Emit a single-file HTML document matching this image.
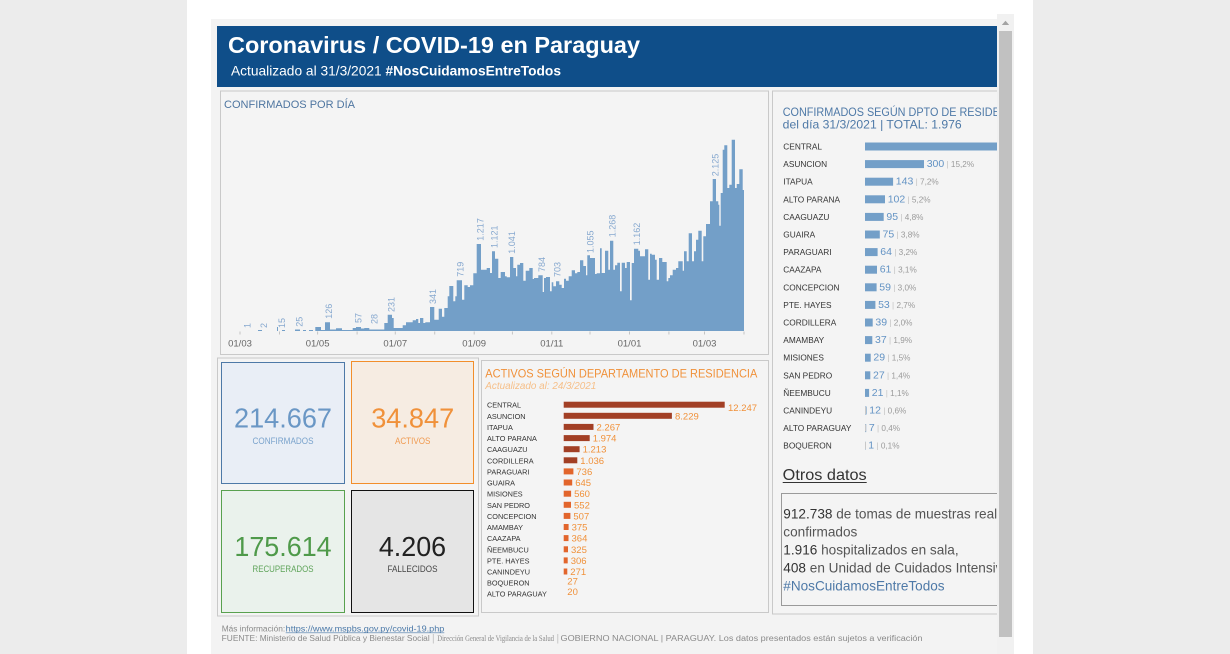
<!DOCTYPE html>
<html>
<head>
<meta charset="utf-8">
<style>
  html,body{margin:0;padding:0;}
  body{width:1230px;height:654px;overflow:hidden;background:#ececec;font-family:"Liberation Sans",sans-serif;}
  svg{display:block;}
</style>
</head>
<body>
<svg width="1230" height="654" viewBox="0 0 1230 654" xmlns="http://www.w3.org/2000/svg" font-family="Liberation Sans, sans-serif">
  <defs>
    <clipPath id="rp"><rect x="772" y="88" width="225" height="530"/></clipPath>
  </defs>
  <!-- page -->
  <rect x="0" y="0" width="1230" height="654" fill="#ececec"/>
  <rect x="187" y="0" width="846" height="654" fill="#ffffff"/>
  <rect x="211" y="19" width="786" height="635" fill="#f3f3f3"/>

  <!-- header -->
  <rect x="217" y="26" width="780" height="61" fill="#0f4e89"/>
  <text x="228" y="53" font-size="23" font-weight="bold" fill="#ffffff" textLength="412" lengthAdjust="spacingAndGlyphs">Coronavirus / COVID-19 en Paraguay</text>
  <text x="231" y="75.5" font-size="13.7" fill="#ffffff" textLength="330" lengthAdjust="spacingAndGlyphs">Actualizado al 31/3/2021 <tspan font-weight="bold">#NosCuidamosEntreTodos</tspan></text>

  <!-- CONFIRMADOS POR DIA panel -->
  <rect x="220.5" y="91" width="548" height="263.5" fill="#f4f4f4" stroke="#c9c9c9" stroke-width="1"/>
  <text x="224" y="108" font-size="11" fill="#4e75a0" textLength="131" lengthAdjust="spacingAndGlyphs">CONFIRMADOS POR DÍA</text>

  <!-- small early bars -->
  <g fill="#739fc8">
    <rect x="258" y="330" width="4" height="1"/>
    <rect x="277" y="327" width="1" height="4"/>
    <rect x="282" y="330" width="3" height="1"/>
    <rect x="295" y="329.5" width="5" height="1.5"/>
    <rect x="303" y="330" width="3" height="1"/>
    <rect x="309" y="330" width="4" height="1"/>
  </g>
  <path fill="#739fc8" d="M315.3 331 V327 H321 V330 H325 V322.3 H330 V329.5 H336 V328.3 H342 V330 H352.7 V328 H356 V327 H361 V328.5 H364.3 V328 H369.3 V329.5 H384.3 V323 H387.7 V314.7 H392 V318 H393.7 V328 H402.7 V325.3 H406 V322.3 H412.7 V320.3 H416 V319 H418.3 V323 H420 V318 H423.3 V323 H425.3 V322.3 H430 V307 H434.3 V319.7 H438.7 V308.7 H442 V316.7 H444.3 V308 H447.7 V296.3 H449.3 V286 H453.3 V301.3 H455.3 V296.3 H456.7 V280.3 H462 V299.7 H464.3 V285.3 H467.7 V287 H470 V285.3 H473.3 V273.3 H476.7 V244 H481 V269.7 H486.7 V268 H490 V273 H492 V251.3 H495 V258.7 H498.3 V278 H500.7 V272 H505 V276.3 H506.7 V277.3 H510 V257 H513.3 V268 H516 V276.3 H517.3 V264.7 H520 V263 H523.3 V280.7 H525.7 V270.7 H529.3 V268 H532.7 V279 H534 V278 H538.3 V275.3 H542.7 V292 H544 V278 H546 V277 H550 V291.3 H551.7 V282.3 H553.3 V286.3 H556 V281.3 H559.3 V284.7 H561.7 V288 H564 V278.7 H566 V280.7 H568.7 V276.3 H571.7 V270.3 H575 V273.3 H577.3 V272 H580 V260.3 H583.3 V266 H586 V275.3 H587.3 V255.3 H590 V258 H595 V274 H596.7 V273.3 H600 V248.3 H601.7 V273 H605 V250.7 H608.3 V269.7 H610 V240.7 H613.3 V269.7 H615 V265.3 H617.3 V262.7 H620 V291.3 H621.7 V262.7 H625 V268 H626.7 V262 H630 V300.3 H631.7 V263 H634 V248.7 H638.3 V250.7 H640 V256.3 H645 V249.3 H648.3 V279.7 H650 V253.7 H651.7 V254.7 H655 V259.7 H656.7 V279.7 H659 V258 H662.3 V262 H666.7 V281.3 H668.3 V278 H670 V275.3 H672.7 V269.7 H676 V268 H678.3 V261.3 H682.7 V270.7 H684 V251.3 H686.7 V261.3 H688.7 V233.3 H692 V261.3 H694 V251.3 H696 V239.7 H698.3 V230.7 H701.7 V261.3 H703.3 V236.3 H706 V224 H710 V201.3 H712.7 V179 H716 V201.3 H718.3 V204.7 H719.3 V225.7 H720.7 V193 H722.7 V149.7 H724.3 V145.3 H727.3 V188 H729.3 V184.7 H731.7 V139.7 H735 V188 H736.7 V184 H739.3 V169.3 H742.7 V190 H744 V331 Z"/>

  <!-- bar labels (rotated) -->
  <g font-size="9" fill="#86a8cf">
    <text transform="translate(250.3,328) rotate(-90)">1</text>
    <text transform="translate(267,328) rotate(-90)">2</text>
    <text transform="translate(285,328) rotate(-90)">15</text>
    <text transform="translate(302.3,326.7) rotate(-90)">25</text>
    <text transform="translate(332,318.7) rotate(-90)">126</text>
    <text transform="translate(361.3,323) rotate(-90)">57</text>
    <text transform="translate(377.3,324) rotate(-90)">28</text>
    <text transform="translate(394.3,312) rotate(-90)">231</text>
    <text transform="translate(436,304) rotate(-90)">341</text>
    <text transform="translate(463.3,276.7) rotate(-90)">719</text>
    <text transform="translate(483.6,240.7) rotate(-90)">1.217</text>
    <text transform="translate(497.6,248) rotate(-90)">1.121</text>
    <text transform="translate(515,253.7) rotate(-90)">1.041</text>
    <text transform="translate(545,272) rotate(-90)">784</text>
    <text transform="translate(560.6,277) rotate(-90)">703</text>
    <text transform="translate(593.3,253) rotate(-90)">1.055</text>
    <text transform="translate(615.6,237.3) rotate(-90)">1.268</text>
    <text transform="translate(640,245.3) rotate(-90)">1.162</text>
    <text transform="translate(718.3,176.3) rotate(-90)">2.125</text>
  </g>

  <!-- axis ticks -->
  <g stroke="#c4c4c4" stroke-width="1">
    <line x1="240" y1="331.5" x2="240" y2="334.5"/>
    <line x1="279.5" y1="331.5" x2="279.5" y2="334.5"/>
    <line x1="317.6" y1="331.5" x2="317.6" y2="334.5"/>
    <line x1="357.1" y1="331.5" x2="357.1" y2="334.5"/>
    <line x1="395.3" y1="331.5" x2="395.3" y2="334.5"/>
    <line x1="434.7" y1="331.5" x2="434.7" y2="334.5"/>
    <line x1="474.2" y1="331.5" x2="474.2" y2="334.5"/>
    <line x1="512.4" y1="331.5" x2="512.4" y2="334.5"/>
    <line x1="551.8" y1="331.5" x2="551.8" y2="334.5"/>
    <line x1="590" y1="331.5" x2="590" y2="334.5"/>
    <line x1="629.5" y1="331.5" x2="629.5" y2="334.5"/>
    <line x1="668.9" y1="331.5" x2="668.9" y2="334.5"/>
    <line x1="704.5" y1="331.5" x2="704.5" y2="334.5"/>
    <line x1="744" y1="331.5" x2="744" y2="334.5"/>
  </g>
  <g font-size="9.5" fill="#666" text-anchor="middle">
    <text x="240" y="346.5">01/03</text>
    <text x="317.6" y="346.5">01/05</text>
    <text x="395.3" y="346.5">01/07</text>
    <text x="474.2" y="346.5">01/09</text>
    <text x="551.8" y="346.5">01/11</text>
    <text x="629.5" y="346.5">01/01</text>
    <text x="704.5" y="346.5">01/03</text>
  </g>

  <!-- KPI panel -->
  <rect x="217.5" y="358" width="261" height="258" fill="#f4f4f4" stroke="#c9c9c9"/>
  <rect x="221.5" y="362.5" width="123" height="121" fill="#e9eef6" stroke="#4e79a7"/>
  <rect x="351.5" y="361.5" width="122" height="122" fill="#f6ece2" stroke="#f28e2b"/>
  <rect x="221.5" y="490.5" width="123" height="122" fill="#eaf2ec" stroke="#59a14f"/>
  <rect x="351.5" y="490.5" width="122" height="122" fill="#e5e5e5" stroke="#111"/>
  <text x="283" y="427.7" font-size="28" fill="#6a97c5" text-anchor="middle" textLength="98" lengthAdjust="spacingAndGlyphs">214.667</text>
  <text x="283" y="444" font-size="9" fill="#7aa3cc" text-anchor="middle" textLength="61" lengthAdjust="spacingAndGlyphs">CONFIRMADOS</text>
  <text x="412.7" y="427.7" font-size="28" fill="#f0913a" text-anchor="middle" textLength="83" lengthAdjust="spacingAndGlyphs">34.847</text>
  <text x="412.7" y="444" font-size="9" fill="#f09a50" text-anchor="middle" textLength="35.5" lengthAdjust="spacingAndGlyphs">ACTIVOS</text>
  <text x="283" y="556" font-size="28" fill="#4f9a4a" text-anchor="middle" textLength="97.3" lengthAdjust="spacingAndGlyphs">175.614</text>
  <text x="283" y="572" font-size="9" fill="#5fa45a" text-anchor="middle" textLength="61" lengthAdjust="spacingAndGlyphs">RECUPERADOS</text>
  <text x="412.5" y="556" font-size="28" fill="#222" text-anchor="middle" textLength="67.3" lengthAdjust="spacingAndGlyphs">4.206</text>
  <text x="412.5" y="572" font-size="9" fill="#444" text-anchor="middle" textLength="50" lengthAdjust="spacingAndGlyphs">FALLECIDOS</text>

  <!-- ACTIVOS panel -->
  <rect x="481.5" y="360.5" width="287" height="252" fill="#f4f4f4" stroke="#c9c9c9"/>
  <text x="485.3" y="377.7" font-size="12" fill="#f0913a" textLength="272" lengthAdjust="spacingAndGlyphs">ACTIVOS SEGÚN DEPARTAMENTO DE RESIDENCIA</text>
  <text x="485.3" y="389" font-size="10" font-style="italic" fill="#f6bf88" textLength="111" lengthAdjust="spacingAndGlyphs">Actualizado al: 24/3/2021</text>
  <g font-size="7.3" fill="#333">
    <text x="487" y="407.7">CENTRAL</text>
    <text x="487" y="418.8">ASUNCION</text>
    <text x="487" y="429.9">ITAPUA</text>
    <text x="487" y="441.1">ALTO PARANA</text>
    <text x="487" y="452.2">CAAGUAZU</text>
    <text x="487" y="463.3">CORDILLERA</text>
    <text x="487" y="474.4">PARAGUARI</text>
    <text x="487" y="485.5">GUAIRA</text>
    <text x="487" y="496.7">MISIONES</text>
    <text x="487" y="507.8">SAN PEDRO</text>
    <text x="487" y="518.9">CONCEPCION</text>
    <text x="487" y="530">AMAMBAY</text>
    <text x="487" y="541.1">CAAZAPA</text>
    <text x="487" y="552.3">ÑEEMBUCU</text>
    <text x="487" y="563.4">PTE. HAYES</text>
    <text x="487" y="574.5">CANINDEYU</text>
    <text x="487" y="585.6">BOQUERON</text>
    <text x="487" y="596.7">ALTO PARAGUAY</text>
  </g>
  <g fill="#a23f25">
    <rect x="563.7" y="401.7" width="161" height="6"/>
    <rect x="563.7" y="412.8" width="108.2" height="6"/>
    <rect x="563.7" y="423.9" width="29.8" height="6"/>
    <rect x="563.7" y="435.1" width="26" height="6"/>
    <rect x="563.7" y="446.2" width="15.9" height="6"/>
    <rect x="563.7" y="457.3" width="13.6" height="6"/>
  </g>
  <g fill="#e2652c">
    <rect x="563.7" y="468.4" width="9.7" height="6"/>
    <rect x="563.7" y="479.5" width="8.5" height="6"/>
    <rect x="563.7" y="490.7" width="7.4" height="6"/>
    <rect x="563.7" y="501.8" width="7.3" height="6"/>
    <rect x="563.7" y="512.9" width="6.7" height="6"/>
    <rect x="563.7" y="524" width="4.9" height="6"/>
    <rect x="563.7" y="535.1" width="4.8" height="6"/>
    <rect x="563.7" y="546.3" width="4.3" height="6"/>
    <rect x="563.7" y="557.4" width="4" height="6"/>
    <rect x="563.7" y="568.5" width="3.6" height="6"/>
  </g>
  <g font-size="9.5" fill="#f0913a">
    <text x="728" y="411.2">12.247</text>
    <text x="675" y="419.3">8.229</text>
    <text x="596.5" y="430.4">2.267</text>
    <text x="592.7" y="441.6">1.974</text>
    <text x="582.6" y="452.7">1.213</text>
    <text x="580.3" y="463.8">1.036</text>
    <text x="576.4" y="474.9">736</text>
    <text x="575.2" y="486">645</text>
    <text x="574.1" y="497.2">560</text>
    <text x="574" y="508.3">552</text>
    <text x="573.4" y="519.4">507</text>
    <text x="571.6" y="530.5">375</text>
    <text x="571.5" y="541.6">364</text>
    <text x="571" y="552.8">325</text>
    <text x="570.7" y="563.9">306</text>
    <text x="570.3" y="575">271</text>
    <text x="567.3" y="584.6">27</text>
    <text x="567.3" y="595">20</text>
  </g>

  <!-- RIGHT panel -->
  <rect x="772.5" y="91" width="240" height="523" fill="#f4f4f4" stroke="#c9c9c9"/>
  <g clip-path="url(#rp)">
    <text x="782.7" y="116" font-size="11.5" fill="#4e79a7" textLength="243" lengthAdjust="spacingAndGlyphs">CONFIRMADOS SEGÚN DPTO DE RESIDENCIA</text>
    <text x="782.7" y="128.7" font-size="12" fill="#4e79a7" textLength="179" lengthAdjust="spacingAndGlyphs">del día 31/3/2021 | TOTAL: 1.976</text>
    <g font-size="8.3" fill="#333">
      <text x="783.3" y="149.5">CENTRAL</text>
      <text x="783.3" y="167.1">ASUNCION</text>
      <text x="783.3" y="184.7">ITAPUA</text>
      <text x="783.3" y="202.3">ALTO PARANA</text>
      <text x="783.3" y="219.9">CAAGUAZU</text>
      <text x="783.3" y="237.5">GUAIRA</text>
      <text x="783.3" y="255.1">PARAGUARI</text>
      <text x="783.3" y="272.7">CAAZAPA</text>
      <text x="783.3" y="290.3">CONCEPCION</text>
      <text x="783.3" y="307.9">PTE. HAYES</text>
      <text x="783.3" y="325.5">CORDILLERA</text>
      <text x="783.3" y="343.1">AMAMBAY</text>
      <text x="783.3" y="360.7">MISIONES</text>
      <text x="783.3" y="378.3">SAN PEDRO</text>
      <text x="783.3" y="395.9">ÑEEMBUCU</text>
      <text x="783.3" y="413.5">CANINDEYU</text>
      <text x="783.3" y="431.1">ALTO PARAGUAY</text>
      <text x="783.3" y="448.7">BOQUERON</text>
    </g>
    <g fill="#739fc8">
      <rect x="865" y="142.5" width="167" height="8"/>
      <rect x="865" y="160.1" width="59" height="8"/>
      <rect x="865" y="177.7" width="28.1" height="8"/>
      <rect x="865" y="195.3" width="20" height="8"/>
      <rect x="865" y="212.9" width="18.7" height="8"/>
      <rect x="865" y="230.5" width="14.8" height="8"/>
      <rect x="865" y="248.1" width="12.6" height="8"/>
      <rect x="865" y="265.7" width="12" height="8"/>
      <rect x="865" y="283.3" width="11.6" height="8"/>
      <rect x="865" y="300.9" width="10.4" height="8"/>
      <rect x="865" y="318.5" width="7.7" height="8"/>
      <rect x="865" y="336.1" width="7.3" height="8"/>
      <rect x="865" y="353.7" width="5.7" height="8"/>
      <rect x="865" y="371.3" width="5.3" height="8"/>
      <rect x="865" y="388.9" width="4.1" height="8"/>
      <rect x="865" y="406.5" width="1.6" height="8"/>
      <rect x="865" y="424.1" width="1.2" height="8"/>
      <rect x="865" y="441.7" width="0.6" height="8"/>
    </g>
    <g font-size="10.5" fill="#6393c4">
      <text x="926.7" y="167.1">300<tspan font-size="8.2" fill="#c2c2c2"> | </tspan><tspan font-size="8.2" fill="#9a9a9a">15,2%</tspan></text>
      <text x="895.8" y="184.7">143<tspan font-size="8.2" fill="#c2c2c2"> | </tspan><tspan font-size="8.2" fill="#9a9a9a">7,2%</tspan></text>
      <text x="887.7" y="202.3">102<tspan font-size="8.2" fill="#c2c2c2"> | </tspan><tspan font-size="8.2" fill="#9a9a9a">5,2%</tspan></text>
      <text x="886.4" y="219.9">95<tspan font-size="8.2" fill="#c2c2c2"> | </tspan><tspan font-size="8.2" fill="#9a9a9a">4,8%</tspan></text>
      <text x="882.5" y="237.5">75<tspan font-size="8.2" fill="#c2c2c2"> | </tspan><tspan font-size="8.2" fill="#9a9a9a">3,8%</tspan></text>
      <text x="880.3" y="255.1">64<tspan font-size="8.2" fill="#c2c2c2"> | </tspan><tspan font-size="8.2" fill="#9a9a9a">3,2%</tspan></text>
      <text x="879.7" y="272.7">61<tspan font-size="8.2" fill="#c2c2c2"> | </tspan><tspan font-size="8.2" fill="#9a9a9a">3,1%</tspan></text>
      <text x="879.3" y="290.3">59<tspan font-size="8.2" fill="#c2c2c2"> | </tspan><tspan font-size="8.2" fill="#9a9a9a">3,0%</tspan></text>
      <text x="878.1" y="307.9">53<tspan font-size="8.2" fill="#c2c2c2"> | </tspan><tspan font-size="8.2" fill="#9a9a9a">2,7%</tspan></text>
      <text x="875.4" y="325.5">39<tspan font-size="8.2" fill="#c2c2c2"> | </tspan><tspan font-size="8.2" fill="#9a9a9a">2,0%</tspan></text>
      <text x="875" y="343.1">37<tspan font-size="8.2" fill="#c2c2c2"> | </tspan><tspan font-size="8.2" fill="#9a9a9a">1,9%</tspan></text>
      <text x="873.4" y="360.7">29<tspan font-size="8.2" fill="#c2c2c2"> | </tspan><tspan font-size="8.2" fill="#9a9a9a">1,5%</tspan></text>
      <text x="873" y="378.3">27<tspan font-size="8.2" fill="#c2c2c2"> | </tspan><tspan font-size="8.2" fill="#9a9a9a">1,4%</tspan></text>
      <text x="871.8" y="395.9">21<tspan font-size="8.2" fill="#c2c2c2"> | </tspan><tspan font-size="8.2" fill="#9a9a9a">1,1%</tspan></text>
      <text x="869.3" y="413.5">12<tspan font-size="8.2" fill="#c2c2c2"> | </tspan><tspan font-size="8.2" fill="#9a9a9a">0,6%</tspan></text>
      <text x="868.9" y="431.1">7<tspan font-size="8.2" fill="#c2c2c2"> | </tspan><tspan font-size="8.2" fill="#9a9a9a">0,4%</tspan></text>
      <text x="868.3" y="448.7">1<tspan font-size="8.2" fill="#c2c2c2"> | </tspan><tspan font-size="8.2" fill="#9a9a9a">0,1%</tspan></text>
    </g>
    <g stroke="#c8c8c8" stroke-width="1">
      <line x1="865.5" y1="407" x2="865.5" y2="414"/>
      <line x1="865.5" y1="424.5" x2="865.5" y2="431.5"/>
      <line x1="865.5" y1="442" x2="865.5" y2="449"/>
    </g>
    <text x="782.7" y="480" font-size="16" fill="#333" textLength="84" lengthAdjust="spacingAndGlyphs">Otros datos</text>
    <line x1="782.7" y1="482.5" x2="866.7" y2="482.5" stroke="#333" stroke-width="1"/>
    <rect x="781.5" y="493.5" width="240" height="112" fill="#f4f4f4" stroke="#9a9a9a"/>
    <g font-size="13.6" fill="#555">
      <text x="783.3" y="518.5"><tspan fill="#333">912.738</tspan> de tomas de muestras realizadas</text>
      <text x="783.3" y="536.5">confirmados</text>
      <text x="783.3" y="554.5"><tspan fill="#333">1.916</tspan> hospitalizados en sala,</text>
      <text x="783.3" y="572.5"><tspan fill="#333">408</tspan> en Unidad de Cuidados Intensivos</text>
      <text x="783.3" y="590.5" fill="#4e79a7" textLength="161.3" lengthAdjust="spacingAndGlyphs">#NosCuidamosEntreTodos</text>
    </g>
  </g>

  <!-- footer -->
  <text x="221.7" y="631.5" font-size="8.7" fill="#8a8a8a" textLength="63.5" lengthAdjust="spacingAndGlyphs">Más información:</text>
  <text x="285.7" y="631.5" font-size="8.7" fill="#4a78a8" textLength="158.6" lengthAdjust="spacingAndGlyphs">https://www.mspbs.gov.py/covid-19.php</text>
  <line x1="285.7" y1="632.8" x2="444.3" y2="632.8" stroke="#4a78a8" stroke-width="0.7"/>
  <text x="221.7" y="641" font-size="8" fill="#8a8a8a" textLength="208" lengthAdjust="spacingAndGlyphs">FUENTE: Ministerio de Salud Pública y Bienestar Social</text>
  <text x="432" y="641.5" font-size="10" fill="#c0c0c0">|</text>
  <text x="437.3" y="641" font-size="8" fill="#8a8a8a" font-family="Liberation Serif, serif" textLength="116.7" lengthAdjust="spacingAndGlyphs">Dirección General de Vigilancia de la Salud</text>
  <text x="556.5" y="641.5" font-size="10" fill="#c0c0c0">|</text>
  <text x="560.5" y="641" font-size="8" fill="#8a8a8a" textLength="362" lengthAdjust="spacingAndGlyphs">GOBIERNO NACIONAL | PARAGUAY. Los datos presentados están sujetos a verificación</text>

  <!-- scrollbar -->
  <rect x="997" y="14" width="17" height="640" fill="#f1f1f1"/>
  <rect x="999" y="31" width="13" height="606" fill="#c1c1c1"/>
  <polygon points="1001.8,25 1005.5,20.8 1009.2,25" fill="#a3a3a3"/>
</svg>
</body>
</html>
